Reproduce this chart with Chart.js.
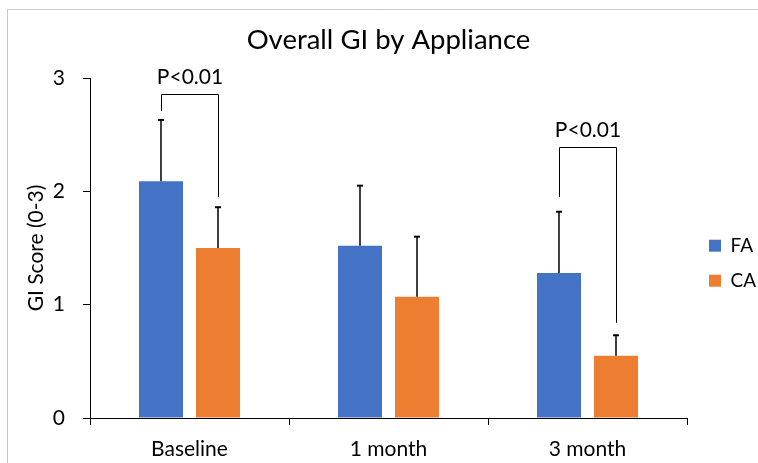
<!DOCTYPE html>
<html>
<head>
<meta charset="utf-8">
<script src="https://cdn.jsdelivr.net/npm/chart.js@4"></script>
<style>
  html, body { margin: 0; padding: 0; background: #fff; }
  #wrap { width: 758px; height: 463px; }
</style>
</head>
<body>
<div id="wrap"><canvas id="giChart"></canvas></div>
<script>
// Data
const categories = ["Baseline", "1 month", "3 month"];
const faMeans = [2.09, 1.52, 1.28];
const caMeans = [1.50, 1.07, 0.55];
const faSD = [0.54, 0.53, 0.54];
const caSD = [0.36, 0.53, 0.18];
const yTicks = [0, 1, 2, 3];

// significance brackets (values in score units)
const sigGroups = [0, 2];
const sigTop = [2.86, 2.39];
const sigLeftEnd = [2.71, 1.95];
const sigRightEnd = [1.95, 0.84];
const sigLabel = "P<0.01";

const FONT = "Lato";
const BASE = 21;

// white background + grey frame
const framePlugin = {
  id: "frame",
  beforeDraw(chart) {
    const ctx = chart.ctx;
    ctx.save();
    ctx.fillStyle = "#fff";
    ctx.fillRect(0, 0, chart.width, chart.height);
    ctx.strokeStyle = "#c8c8c8";
    ctx.lineWidth = 1;
    ctx.beginPath();
    ctx.moveTo(7.5, chart.height);
    ctx.lineTo(7.5, 9.5);
    ctx.lineTo(chart.width, 9.5);
    ctx.stroke();
    ctx.restore();
  }
};

// error bars (upward only) and P-value brackets
const annotPlugin = {
  id: "annot",
  afterDatasetsDraw(chart) {
    const ctx = chart.ctx;
    const y = chart.scales.y;
    const sds = [faSD, caSD];
    const means = [faMeans, caMeans];
    ctx.save();
    ctx.strokeStyle = "#000";

    sds.forEach((sd, d) => {
      const meta = chart.getDatasetMeta(d);
      meta.data.forEach((bar, i) => {
        const top = y.getPixelForValue(means[d][i] + sd[i]);
        ctx.lineWidth = 1.5;
        ctx.beginPath();
        ctx.moveTo(bar.x, bar.y);
        ctx.lineTo(bar.x, top);
        ctx.stroke();
        ctx.lineWidth = 2;
        ctx.beginPath();
        ctx.moveTo(bar.x - 3, top);
        ctx.lineTo(bar.x + 3, top);
        ctx.stroke();
      });
    });

    const m0 = chart.getDatasetMeta(0);
    const m1 = chart.getDatasetMeta(1);
    ctx.lineWidth = 1;
    ctx.fillStyle = "#000";
    ctx.font = BASE + "px " + FONT;
    ctx.textAlign = "center";
    ctx.textBaseline = "alphabetic";
    sigGroups.forEach((g, k) => {
      const xa = Math.round(m0.data[g].x) + 0.5;
      const xb = Math.round(m1.data[g].x) + 0.5;
      const yt = Math.round(y.getPixelForValue(sigTop[k])) + 0.5;
      ctx.beginPath();
      ctx.moveTo(xa, y.getPixelForValue(sigLeftEnd[k]));
      ctx.lineTo(xa, yt);
      ctx.lineTo(xb, yt);
      ctx.lineTo(xb, y.getPixelForValue(sigRightEnd[k]));
      ctx.stroke();
      ctx.fillText(sigLabel, (xa + xb) / 2, yt - 11);
    });
    ctx.restore();
  }
};

const ctx = document.getElementById("giChart").getContext("2d");
new Chart(ctx, {
  type: "bar",
  data: {
    labels: categories,
    datasets: [
      { label: "FA", data: faMeans, backgroundColor: "#4472C4", categoryPercentage: 0.573, barPercentage: 0.772 },
      { label: "CA", data: caMeans, backgroundColor: "#ED7D31", categoryPercentage: 0.573, barPercentage: 0.772 }
    ]
  },
  options: {
    responsive: true,
    maintainAspectRatio: false,
    animation: false,
    layout: { padding: 0 },
    plugins: {
      title: {
        display: true,
        text: "Overall GI by Appliance",
        fullSize: false,
        color: "#000",
        font: { family: FONT, size: 27.5, weight: "normal" },
        padding: { top: 23.5, bottom: 21.5 }
      },
      legend: {
        position: "right",
        maxWidth: 65,
        // empty title only pushes the two entries down
        title: { display: true, text: "", padding: { top: 49, bottom: 0 } },
        labels: {
          boxWidth: 12,
          boxHeight: 12,
          padding: 16,
          color: "#000",
          font: { family: FONT, size: 19 }
        }
      },
      tooltip: { enabled: false }
    },
    scales: {
      x: {
        grid: { drawOnChartArea: false, drawTicks: true, tickLength: 7, tickColor: "#000", offset: true },
        border: { color: "#000" },
        ticks: { color: "#000", padding: 12, font: { family: FONT, size: BASE } },
        afterFit(s) { s.height = 45; }
      },
      y: {
        min: 0,
        max: 3,
        afterBuildTicks(s) { s.ticks = yTicks.map(v => ({ value: v })); },
        grid: { drawOnChartArea: false, drawTicks: true, tickLength: 7, tickColor: "#000" },
        border: { color: "#000" },
        ticks: { color: "#000", padding: 18, font: { family: FONT, size: BASE } },
        title: {
          display: true,
          text: "GI Score (0-3)",
          color: "#000",
          font: { family: FONT, size: BASE },
          padding: { top: 24 }
        },
        afterFit(s) { s.width = 90; }
      },
      gap: {
        position: "right",
        display: true,
        grid: { display: false },
        ticks: { display: false },
        border: { display: false },
        afterFit(s) { s.width = 6; }
      }
    }
  },
  plugins: [framePlugin, annotPlugin]
});
</script>
</body>
</html>
